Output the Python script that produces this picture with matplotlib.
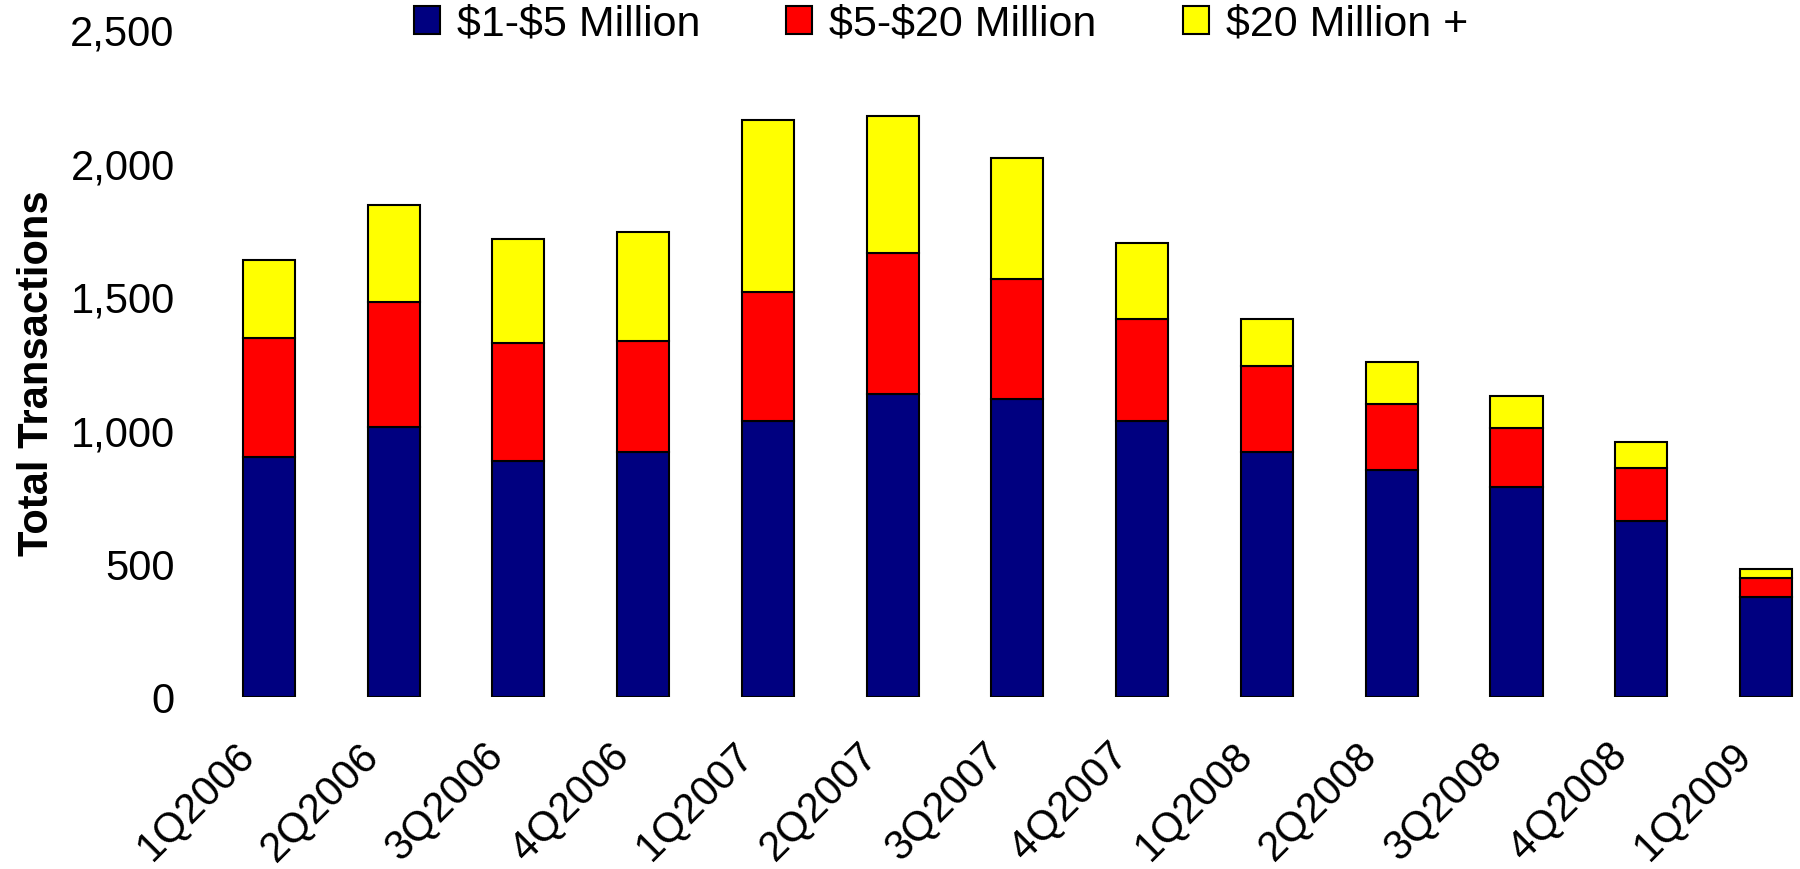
import matplotlib
matplotlib.use("Agg")
import matplotlib.pyplot as plt
import matplotlib.transforms as mtransforms

# Quarterly transaction counts by deal size
quarters = ["1Q2006", "2Q2006", "3Q2006", "4Q2006", "1Q2007", "2Q2007", "3Q2007",
            "4Q2007", "1Q2008", "2Q2008", "3Q2008", "4Q2008", "1Q2009"]
small_deals = [899, 1009, 883, 916, 1033, 1135, 1114, 1033, 916, 851, 787, 659, 374]
mid_deals = [443, 468, 443, 418, 483, 525, 450, 380, 323, 246, 221, 198, 70]
large_deals = [295, 364, 389, 405, 642, 514, 453, 286, 176, 158, 120, 96, 34]

series_names = ["$1-$5 Million", "$5-$20 Million", "$20 Million +"]
series_colors = ["#000080", "#FF0000", "#FFFF00"]
y_ticks = [0, 500, 1000, 1500, 2000, 2500]
y_tick_labels = ["0", "500", "1,000", "1,500", "2,000", "2,500"]

plt.rcParams["font.family"] = ["Liberation Sans", "DejaVu Sans"]
plt.rcParams["text.parse_math"] = False

W, H = 1800, 870
fig = plt.figure(figsize=(W / 100, H / 100), dpi=100)
ax_left, ax_bottom, ax_top = 206.6, 698, 30
ax = fig.add_axes([ax_left / W, 1 - ax_bottom / H, 1 - ax_left / W, (ax_bottom - ax_top) / H])

x = list(range(len(quarters)))
bar_w = 0.417
edge = dict(edgecolor="black", linewidth=1.5)
b1 = ax.bar(x, small_deals, bar_w, color=series_colors[0], **edge)
b2 = ax.bar(x, mid_deals, bar_w, bottom=small_deals, color=series_colors[1], **edge)
bottoms3 = [a + b for a, b in zip(small_deals, mid_deals)]
b3 = ax.bar(x, large_deals, bar_w, bottom=bottoms3, color=series_colors[2], **edge)

pitch = 124.75
ax.set_xlim(-0.5, 12 + (W - (269 + 12 * pitch)) / pitch)
ax.set_ylim(0, 2500)

for s in ax.spines.values():
    s.set_visible(False)

ax.set_yticks(y_ticks)
ax.set_yticklabels(y_tick_labels, fontsize=30)
ax.tick_params(axis="y", length=0, pad=23)

ax.set_xticks(x)
ax.set_xticklabels(quarters, fontsize=30, rotation=45, ha="right", va="center",
                   rotation_mode="anchor")
ax.tick_params(axis="x", length=0, pad=37)
shift = mtransforms.ScaledTranslation(-21 / 100, 0, fig.dpi_scale_trans)
for lbl in ax.get_xticklabels():
    lbl.set_transform(lbl.get_transform() + shift)

fig.text(37 / W, 1 - 373 / H, "Total Transactions", rotation=90, ha="center", va="center",
         fontsize=30, fontweight="bold")

fig.legend(handles=[b1, b2, b3], labels=series_names, loc="center", ncol=3,
           bbox_to_anchor=(941 / W, 1 - 25 / H), frameon=False, fontsize=31,
           handlelength=0.6, handleheight=0.62, handletextpad=0.4,
           columnspacing=2.0, borderpad=0, borderaxespad=0)

fig.savefig("out.png", dpi=100)
